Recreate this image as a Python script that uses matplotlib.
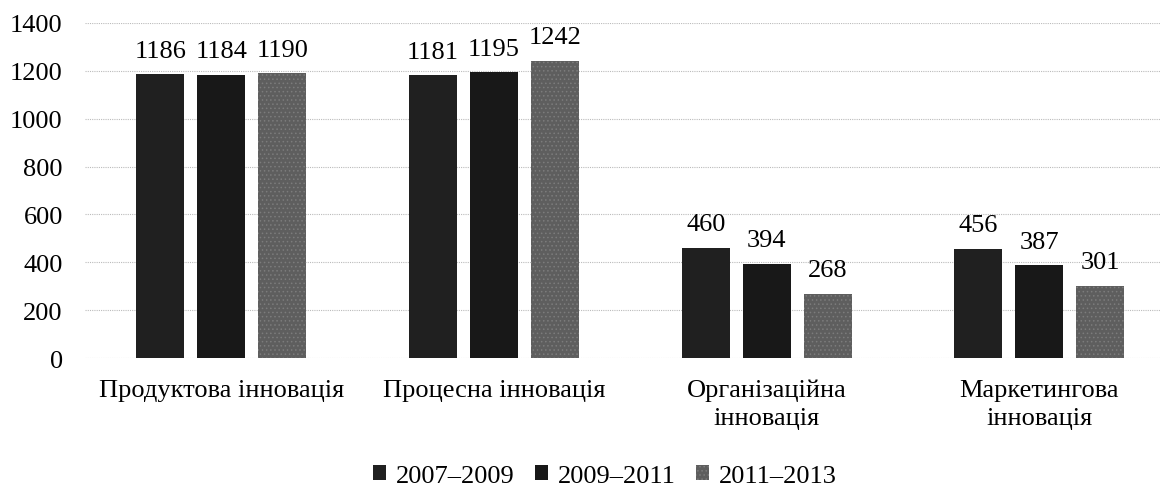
import numpy as np
import matplotlib
matplotlib.use("Agg")
import matplotlib.pyplot as plt

plt.rcParams['font.family'] = ['Liberation Serif', 'DejaVu Serif']
plt.rcParams['hatch.linewidth'] = 0.6

categories = ["Продуктова інновація", "Процесна інновація",
              "Організаційна\nінновація", "Маркетингова\nінновація"]
series_names = ["2007–2009", "2009–2011", "2011–2013"]
v_2007_2009 = [1186, 1181, 460, 456]
v_2009_2011 = [1184, 1195, 394, 387]
v_2011_2013 = [1190, 1242, 268, 301]
yticks = [0, 200, 400, 600, 800, 1000, 1200, 1400]

fs = 19
fig = plt.figure(figsize=(11.6, 4.89), dpi=100)
ax = fig.add_axes([85 / 1160, 130 / 489, 1 - 85 / 1160, 335 / 489])

x = np.arange(len(categories))
step = 61 / 272.7
width = 48 / 272.7
styles = [dict(color="#202020"), dict(color="#181818"),
          dict(facecolor="#5e5e5e", edgecolor="#7c7c7c", hatch="....")]
all_vals = [v_2007_2009, v_2009_2011, v_2011_2013]
for i, (vals, st, name) in enumerate(zip(all_vals, styles, series_names)):
    bars = ax.bar(x + (i - 1) * step, vals, width, label=name, linewidth=0, zorder=3, **st)
    for b, v in zip(bars, vals):
        ax.annotate(str(v), (b.get_x() + b.get_width() / 2, v), xytext=(0, 9),
                    textcoords="offset points", ha="center", va="bottom", fontsize=fs)

ax.set_xlim(-0.5, -0.5 + 1075 / 272.7)
ax.set_ylim(0, 1400)
ax.set_yticks(yticks)
ax.set_xticks(x)
ax.set_xticklabels(categories, fontsize=fs, linespacing=1.35)
ax.tick_params(axis='y', labelsize=fs, length=0, pad=16)
ax.tick_params(axis='x', length=0, pad=15)
for s in ax.spines.values():
    s.set_visible(False)
ax.yaxis.grid(True, color="#bbbbbb", linestyle=(0, (1, 1)), linewidth=0.8, zorder=0)
ax.set_axisbelow(True)

fig.legend(loc="center", bbox_to_anchor=(605 / 1160, 1 - 477 / 489), ncol=3,
           frameon=False, fontsize=fs, handlelength=0.5, handleheight=0.5,
           handletextpad=0.38, columnspacing=0.76, borderpad=0, borderaxespad=0)

fig.savefig("out.png", dpi=100)
